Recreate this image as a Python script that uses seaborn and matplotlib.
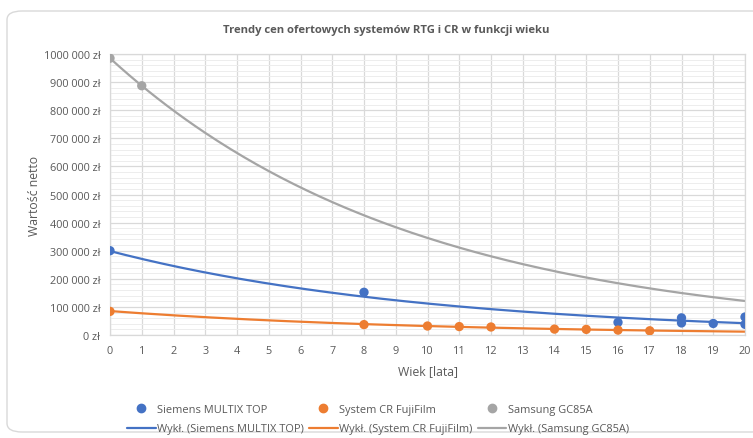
import numpy as np
import pandas as pd
import matplotlib
matplotlib.use("Agg")
import matplotlib.pyplot as plt
import seaborn as sns
from matplotlib.patches import FancyBboxPatch
from matplotlib.ticker import MultipleLocator

# data
siemens_age = [0, 8, 16, 18, 18, 19, 20, 20]
siemens_price = [300000, 152000, 45000, 61000, 43000, 41000, 64000, 38000]
fuji_age = [0, 8, 10, 11, 12, 14, 15, 16, 17]
fuji_price = [84000, 37000, 32000, 30000, 28500, 21000, 20000, 17500, 15000]
samsung_age = [0, 1]
samsung_price = [985000, 887000]

series_names = ["Siemens MULTIX TOP", "System CR FujiFilm", "Samsung GC85A"]
colors = ["#4472C4", "#ED7D31", "#A5A5A5"]
y_ticks = [0, 100000, 200000, 300000, 400000, 500000, 600000, 700000, 800000, 900000, 1000000]
y_tick_labels = ["0 zł", "100 000 zł", "200 000 zł", "300 000 zł", "400 000 zł", "500 000 zł",
                 "600 000 zł", "700 000 zł", "800 000 zł", "900 000 zł", "1000 000 zł"]

frames = []
for name, ages, prices in zip(series_names,
                              [siemens_age, fuji_age, samsung_age],
                              [siemens_price, fuji_price, samsung_price]):
    frames.append(pd.DataFrame({"age": ages, "price": prices, "series": name}))
df = pd.concat(frames, ignore_index=True)

# exponential trend lines (same as Excel "Wykł.")
xs = np.linspace(0, 20, 201)
trend_frames = []
for name, grp in df.groupby("series", sort=False):
    b, a = np.polyfit(grp["age"], np.log(grp["price"]), 1)
    trend_frames.append(pd.DataFrame({"age": xs, "price": np.exp(a + b * xs),
                                      "series": "Wykł. (" + name + ")"}))
trend = pd.concat(trend_frames, ignore_index=True)

sns.set_theme(style="white")
plt.rcParams["font.family"] = ["Open Sans", "DejaVu Sans"]

fig = plt.figure(figsize=(7.53, 4.39), dpi=100)
fig.patches.append(FancyBboxPatch((7 / 753, 1 - 433 / 439), 760 / 753, 421 / 439,
                                  boxstyle="round,pad=0,rounding_size=0.02",
                                  transform=fig.transFigure, facecolor="white",
                                  edgecolor="#D9D9D9", linewidth=1.0, zorder=-1))
ax = fig.add_axes([110 / 753, 1 - 336 / 439, 635 / 753, 281 / 439])
ax.set_facecolor("none")

trend_names = ["Wykł. (" + n + ")" for n in series_names]
sns.lineplot(data=trend, x="age", y="price", hue="series", hue_order=trend_names,
             palette=colors, linewidth=1.6, ax=ax, legend=False, zorder=2)
sns.scatterplot(data=df, x="age", y="price", hue="series", hue_order=series_names,
                palette=colors, s=45, edgecolor="none", ax=ax, legend=False, zorder=3)

ax.set_xlim(0, 20)
ax.set_ylim(0, 1000000)
ax.set_xticks(range(0, 21))
ax.set_yticks(y_ticks)
ax.set_yticklabels(y_tick_labels)
ax.yaxis.set_minor_locator(MultipleLocator(20000))
ax.grid(which="major", color="#D9D9D9", linewidth=0.9)
ax.grid(which="minor", axis="y", color="#EDEDED", linewidth=0.7)
ax.set_axisbelow(True)
for s in ax.spines.values():
    s.set_color("#D9D9D9")
    s.set_linewidth(0.9)
ax.tick_params(axis="both", which="both", length=0, labelsize=7.8, colors="#595959", pad=7)

ax.set_xlabel("Wiek [lata]", fontsize=8.8, color="#595959", labelpad=6)
ax.set_ylabel("Wartość netto", fontsize=8.8, color="#595959", labelpad=1.5)
fig.text(386 / 753, 1 - 31 / 439, "Trendy cen ofertowych systemów RTG i CR w funkcji wieku",
         ha="center", va="center", fontsize=8.1, fontweight="bold", color="#595959")

handles = []
labels = []
for name, c in zip(series_names, colors):
    handles.append(plt.Line2D([], [], marker="o", color=c, linestyle="none", markersize=6))
    labels.append(name)
    handles.append(plt.Line2D([], [], color=c, linewidth=1.6))
    labels.append("Wykł. (" + name + ")")
fig.legend(handles, labels, ncol=3, loc="center", bbox_to_anchor=(378 / 753, 1 - 420 / 439),
           frameon=False, fontsize=7.9, labelcolor="#595959", handlelength=2.6,
           handletextpad=0.15, columnspacing=0.45, labelspacing=0.8)

fig.savefig("out.png", dpi=100)
